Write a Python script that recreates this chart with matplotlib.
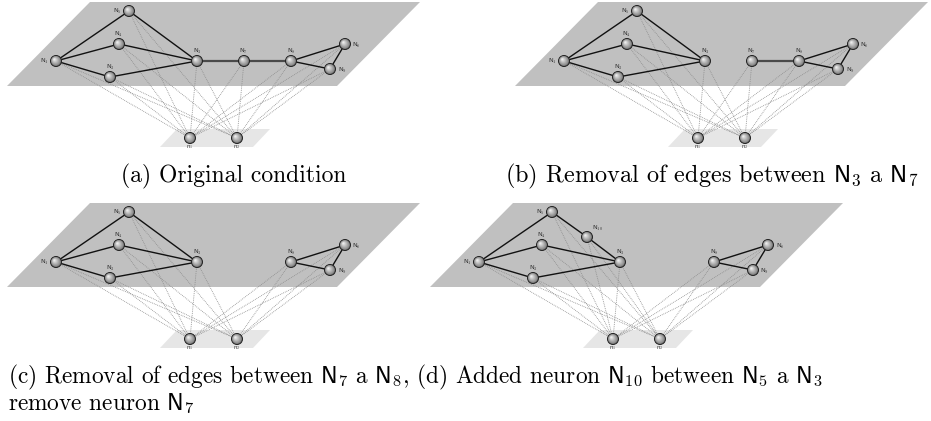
import matplotlib
matplotlib.use("Agg")
import matplotlib.pyplot as plt
from matplotlib.patches import Polygon, Circle

plt.rcParams['mathtext.fontset'] = 'cm'

# ---- data -------------------------------------------------------------
node_names = ['N1', 'N2', 'N3', 'N4', 'N5', 'N6', 'N7', 'N8', 'N9', 'N10']
node_x = [56, 110, 197, 119, 129, 345, 244, 291, 330, 164]
node_y = [61, 77, 61, 44, 11, 44, 61, 61, 69, 36]
label_side = ['left', 'above', 'above', 'above', 'left', 'right', 'above', 'above', 'right', 'aboveright']

out_names = ['n1', 'n2']
out_x = [190, 237]
out_y = [138, 138]

panel_ids = ['a', 'b', 'c', 'd']
panel_dx = [0, 508, 0, 423]
panel_dy = [0, 0, 201, 201]
panel_nodes = [
    ['N1', 'N2', 'N3', 'N4', 'N5', 'N6', 'N7', 'N8', 'N9'],
    ['N1', 'N2', 'N3', 'N4', 'N5', 'N6', 'N7', 'N8', 'N9'],
    ['N1', 'N2', 'N3', 'N4', 'N5', 'N6', 'N8', 'N9'],
    ['N1', 'N2', 'N3', 'N4', 'N5', 'N6', 'N8', 'N9', 'N10'],
]
base_edges = [('N1', 'N5'), ('N1', 'N4'), ('N1', 'N2'), ('N5', 'N3'), ('N4', 'N3'),
              ('N2', 'N3'), ('N8', 'N6'), ('N8', 'N9'), ('N6', 'N9')]
panel_edges = [
    base_edges,
    base_edges,
    base_edges,
    [e for e in base_edges if e != ('N5', 'N3')] + [('N5', 'N10'), ('N10', 'N3')],
]
panel_strong = [
    [('N3', 'N7'), ('N7', 'N8')],
    [('N7', 'N8')],
    [],
    [],
]

captions = [
    (234, 176, 'center', 17, r'(a) Original condition'),
    (712, 176, 'center', 17.5, r'(b) Removal of edges between $\mathsf{N}_3$ a $\mathsf{N}_7$'),
    (8, 377, 'left', 16.8, r'(c) Removal of edges between $\mathsf{N}_7$ a $\mathsf{N}_8$, (d) Added neuron $\mathsf{N}_{10}$ between $\mathsf{N}_5$ a $\mathsf{N}_3$'),
    (8, 404, 'left', 16.8, r'remove neuron $\mathsf{N}_7$'),
]

# ---- figure -----------------------------------------------------------
W, H = 931, 421
fig = plt.figure(figsize=(W / 100, H / 100), dpi=100)
ax = fig.add_axes([0, 0, 1, 1])
ax.set_xlim(0, W)
ax.set_ylim(H, 0)
ax.axis('off')

plane = [(90, 2), (420, 2), (337, 86), (7, 86)]
bottom_plane = [(177, 129), (270, 129), (253, 147), (160, 147)]


def draw_node(cx, cy, r=5.5):
    ax.add_patch(Circle((cx, cy), r, facecolor='#6e6e6e', edgecolor='#222222', lw=0.7, zorder=5))
    n = 9
    for i in range(1, n):
        t = i / n
        rr = r * (1 - t) * 0.95
        g = 0.5 + 0.5 * t
        ax.add_patch(Circle((cx - 0.35 * r * t, cy - 0.35 * r * t), rr,
                            facecolor=(g, g, g), edgecolor='none', zorder=5))


idx = {n: i for i, n in enumerate(node_names)}

for p, pid in enumerate(panel_ids):
    dx, dy = panel_dx[p], panel_dy[p]
    ax.add_patch(Polygon([(x + dx, y + dy) for x, y in plane], closed=True,
                         facecolor='#c0c0c0', edgecolor='none', zorder=1))
    ax.add_patch(Polygon([(x + dx, y + dy) for x, y in bottom_plane], closed=True,
                         facecolor='#e6e6e6', edgecolor='none', zorder=1))
    # dotted links to output neurons
    for nm in panel_nodes[p]:
        i = idx[nm]
        for ox, oy in zip(out_x, out_y):
            ax.plot([node_x[i] + dx, ox + dx], [node_y[i] + dy, oy + dy],
                    color='#8c8c8c', lw=0.6, ls=(0, (1, 1.2)), zorder=2)
    # edges
    for a, b in panel_edges[p]:
        ax.plot([node_x[idx[a]] + dx, node_x[idx[b]] + dx],
                [node_y[idx[a]] + dy, node_y[idx[b]] + dy],
                color='#111111', lw=1.0, zorder=3, solid_capstyle='round')
    for a, b in panel_strong[p]:
        ax.plot([node_x[idx[a]] + dx, node_x[idx[b]] + dx],
                [node_y[idx[a]] + dy, node_y[idx[b]] + dy],
                color='#4a4a4a', lw=1.6, zorder=3)
    # nodes + labels
    for nm in panel_nodes[p]:
        i = idx[nm]
        cx, cy = node_x[i] + dx, node_y[i] + dy
        draw_node(cx, cy)
        lab = r'N$_{%s}$' % nm[1:]
        side = label_side[i]
        if side == 'left':
            ax.text(cx - 7.5, cy, lab, ha='right', va='center', fontsize=4.5, color='#333333', zorder=6)
        elif side == 'right':
            ax.text(cx + 7.5, cy + 1, lab, ha='left', va='center', fontsize=4.5, color='#333333', zorder=6)
        elif side == 'aboveright':
            ax.text(cx + 5, cy - 9, lab, ha='left', va='center', fontsize=4.5, color='#333333', zorder=6)
        else:
            ax.text(cx, cy - 10, lab, ha='center', va='center', fontsize=4.5, color='#333333', zorder=6)
    for k, nm in enumerate(out_names):
        cx, cy = out_x[k] + dx, out_y[k] + dy
        draw_node(cx, cy)
        ax.text(cx, cy + 9, r'n$_{%s}$' % nm[1:], ha='center', va='center', fontsize=4.0,
                color='#333333', zorder=6)

for x, y, ha, fs, txt in captions:
    ax.text(x, y, txt, ha=ha, va='center', fontsize=fs, family='cmr10', color='black')

fig.savefig('out.png', dpi=100)
